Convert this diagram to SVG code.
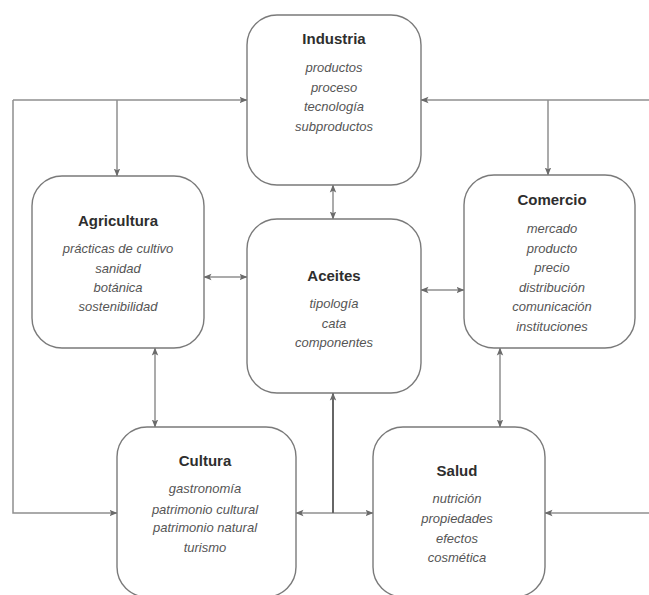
<svg xmlns="http://www.w3.org/2000/svg" width="649" height="595" viewBox="0 0 649 595">
<style>
.box{fill:#fff;stroke:#7a7a7a;stroke-width:1.4}
.t{font-family:"Liberation Sans",Arial,sans-serif;font-weight:bold;font-size:15px;fill:#2e2e2e;text-anchor:middle}
.i{font-family:"Liberation Sans",Arial,sans-serif;font-style:italic;font-size:13px;fill:#555;text-anchor:middle}
.c{fill:none;stroke:#8f8f8f;stroke-width:1.5}
</style>
<defs>
<marker id="a" viewBox="0 0 8 8" refX="7.5" refY="4" markerWidth="8" markerHeight="8" markerUnits="userSpaceOnUse" orient="auto-start-reverse">
<path d="M0,0.8 L8,4 L0,7.2 L1.8,4 Z" fill="#6a6a6a"/>
</marker>
</defs>
<rect width="649" height="595" fill="#fff"/>
<g id="connectors">
<path class="c" d="M649,100 H421" marker-end="url(#a)"/>
<path class="c" d="M548,100 V175" marker-end="url(#a)"/>
<path class="c" d="M117,100 H247" marker-end="url(#a)"/>
<path class="c" d="M117,100 V176" marker-end="url(#a)"/>
<path class="c" d="M13,100 V513 H117" marker-end="url(#a)"/>
<path class="c" d="M13,100 H117"/>
<path class="c" d="M333,185 V219" marker-start="url(#a)" marker-end="url(#a)"/>
<path class="c" d="M204,277 H247" marker-start="url(#a)" marker-end="url(#a)"/>
<path class="c" d="M421,290 H464" marker-start="url(#a)" marker-end="url(#a)"/>
<path class="c" d="M155,348 V427" marker-start="url(#a)" marker-end="url(#a)"/>
<path class="c" d="M500,348 V427" marker-start="url(#a)" marker-end="url(#a)"/>
<path class="c" d="M296,513 H373" marker-start="url(#a)" marker-end="url(#a)"/>
<path class="c" d="M333,513 V393" style="stroke:#666;stroke-width:2" marker-end="url(#a)"/>
<path class="c" d="M649,513 H545" marker-end="url(#a)"/>
</g>
<g id="industria">
<rect class="box" x="247" y="15" width="174" height="170" rx="30"/>
<text class="t" x="334" y="44">Industria</text>
<text class="i" x="334" y="72">productos</text>
<text class="i" x="334" y="92">proceso</text>
<text class="i" x="334" y="111">tecnología</text>
<text class="i" x="334" y="131">subproductos</text>
</g>
<g id="agricultura">
<rect class="box" x="32" y="176" width="172" height="172" rx="30"/>
<text class="t" x="118" y="226">Agricultura</text>
<text class="i" x="118" y="253">prácticas  de cultivo</text>
<text class="i" x="118" y="273">sanidad</text>
<text class="i" x="118" y="292">botánica</text>
<text class="i" x="118" y="311">sostenibilidad</text>
</g>
<g id="aceites">
<rect class="box" x="247" y="219" width="174" height="174" rx="30"/>
<text class="t" x="334" y="281">Aceites</text>
<text class="i" x="334" y="308">tipología</text>
<text class="i" x="334" y="328">cata</text>
<text class="i" x="334" y="347">componentes</text>
</g>
<g id="comercio">
<rect class="box" x="464" y="175" width="171" height="173" rx="30"/>
<text class="t" x="552" y="205">Comercio</text>
<text class="i" x="552" y="233">mercado</text>
<text class="i" x="552" y="253">producto</text>
<text class="i" x="552" y="272">precio</text>
<text class="i" x="552" y="292">distribución</text>
<text class="i" x="552" y="311">comunicación</text>
<text class="i" x="552" y="331">instituciones</text>
</g>
<g id="cultura">
<rect class="box" x="117" y="427" width="179" height="170" rx="30"/>
<text class="t" x="205" y="466">Cultura</text>
<text class="i" x="205" y="493">gastronomía</text>
<text class="i" x="205" y="514">patrimonio  cultural</text>
<text class="i" x="205" y="532">patrimonio  natural</text>
<text class="i" x="205" y="552">turismo</text>
</g>
<g id="salud">
<rect class="box" x="373" y="427" width="172" height="170" rx="30"/>
<text class="t" x="457" y="476">Salud</text>
<text class="i" x="457" y="503">nutrición</text>
<text class="i" x="457" y="523">propiedades</text>
<text class="i" x="457" y="543">efectos</text>
<text class="i" x="457" y="562">cosmética</text>
</g>
</svg>
